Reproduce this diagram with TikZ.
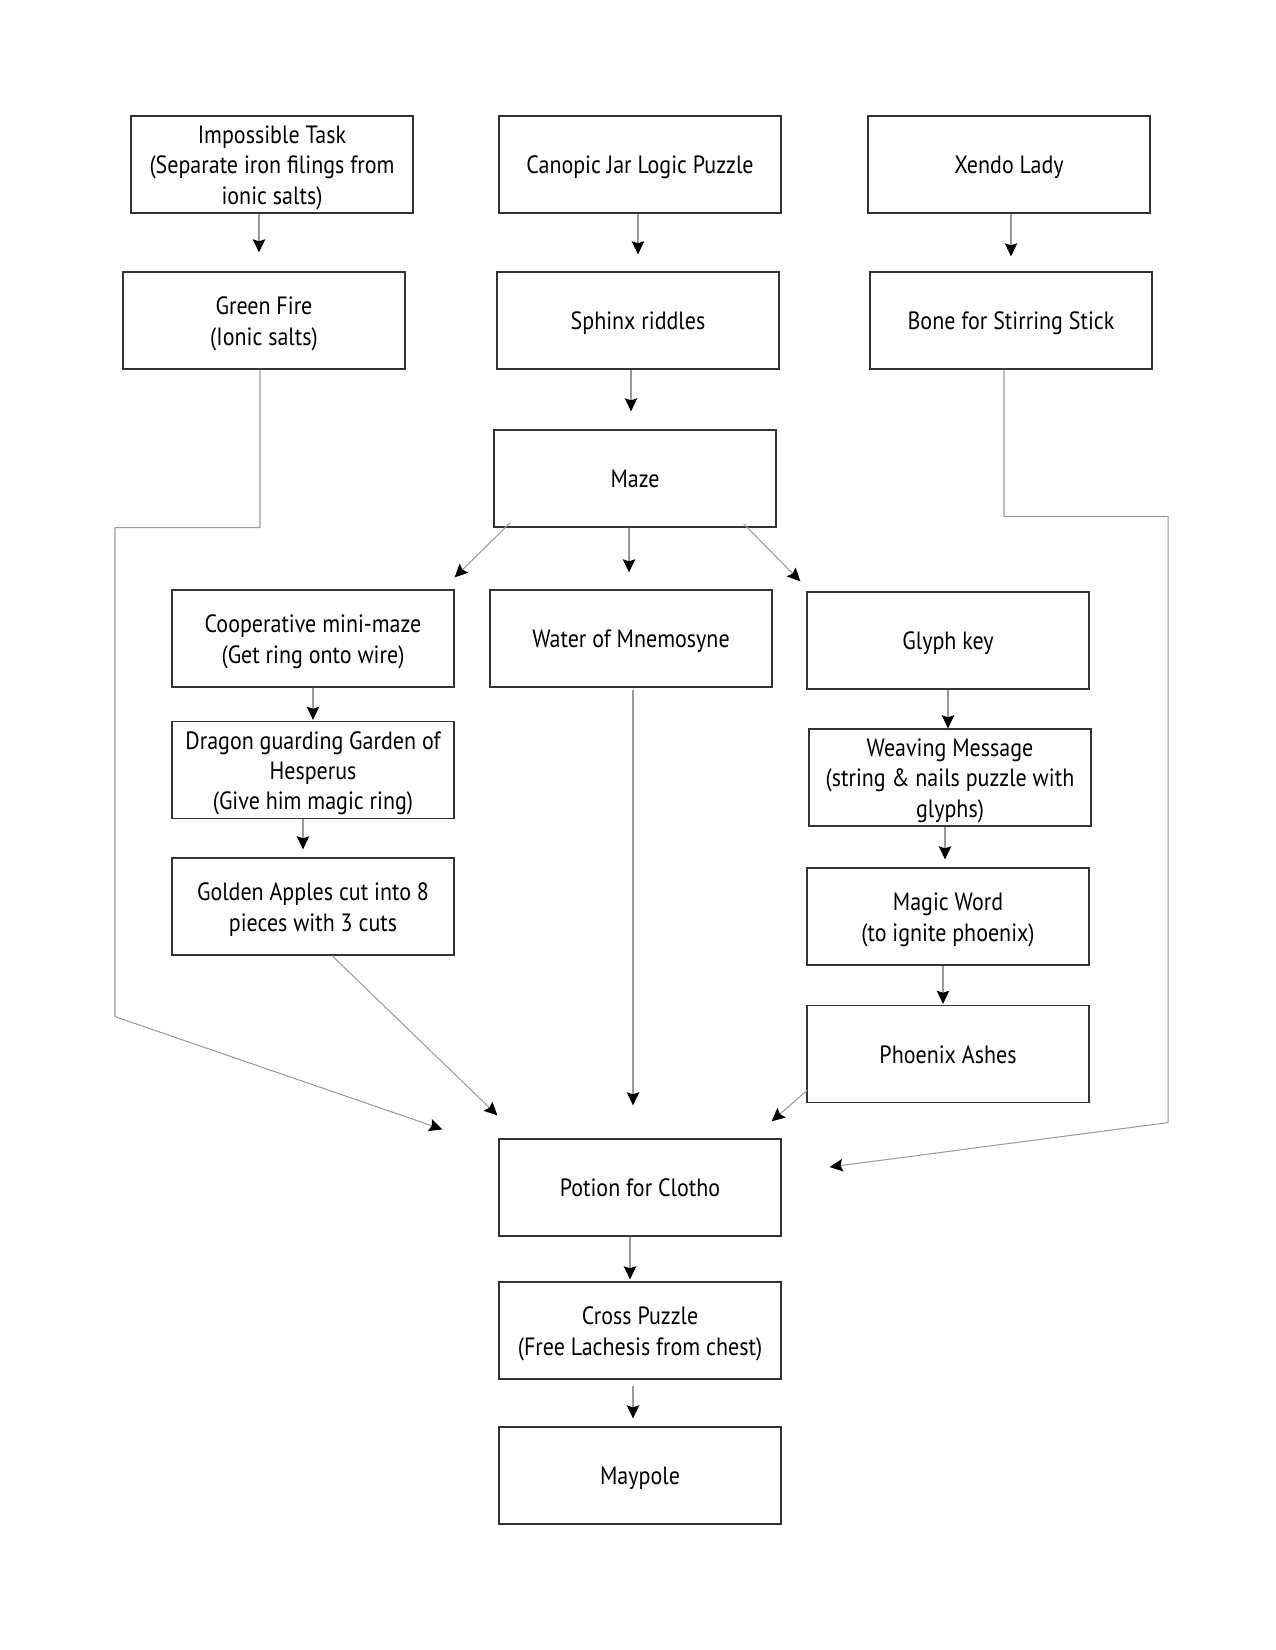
\documentclass[tikz,border=0pt]{standalone}
\usepackage{fontspec}
\setmainfont{PT Sans}[FakeStretch=0.88]
\usetikzlibrary{arrows.meta,calc}
\definecolor{boxline}{HTML}{333333}
\definecolor{connline}{HTML}{9A9A9A}
\newcommand\bt[1]{\raisebox{-1.6pt}[\height][\depth]{\begin{tabular}{@{}c@{}}#1\end{tabular}}}
\tikzset{
  box/.style={draw=boxline,line width=0.6pt,minimum width=135.36pt,minimum height=46.56pt,inner sep=0pt,font=\fontsize{12}{14.6}\selectfont},
  conn/.style={draw=connline,line width=0.5pt,-{Stealth[length=6.3pt,width=6pt,inset=1pt,color=black]}}
}
\begin{document}
\begin{tikzpicture}[x=0.48pt,y=-0.48pt]
\useasboundingbox (0,0) rectangle (1275,1650);
\node[box] (imp) at (272,164.5) {\bt{Impossible Task\\(Separate iron filings from\\ionic salts)}};
\node[box] (can) at (640,164.5) {\bt{Canopic Jar Logic Puzzle}};
\node[box] (xen) at (1009,164.5) {\bt{Xendo Lady}};
\node[box] (gf) at (264,320.5) {\bt{Green Fire\\(Ionic salts)}};
\node[box] (sph) at (638,320.5) {\bt{Sphinx riddles}};
\node[box] (bone) at (1011,320.5) {\bt{Bone for Stirring Stick}};
\node[box] (maze) at (635,478.5) {\bt{Maze}};
\node[box] (coop) at (313,638.5) {\bt{Cooperative mini-maze\\(Get ring onto wire)}};
\node[box] (water) at (631,638.5) {\bt{Water of Mnemosyne}};
\node[box] (glyph) at (948,640.5) {\bt{Glyph key}};
\node[box] (dragon) at (313,770) {\bt{Dragon guarding Garden of\\Hesperus\\(Give him magic ring)}};
\node[box] (weav) at (950,777.5) {\bt{Weaving Message\\(string \& nails puzzle with\\glyphs)}};
\node[box] (gold) at (313,906.5) {\bt{Golden Apples cut into 8\\pieces with 3 cuts}};
\node[box] (magic) at (948,916.5) {\bt{Magic Word\\(to ignite phoenix)}};
\node[box] (phoenix) at (948,1054) {\bt{Phoenix Ashes}};
\node[box] (pot) at (640,1187.5) {\bt{Potion for Clotho}};
\node[box] (cross) at (640,1330.5) {\bt{Cross Puzzle\\(Free Lachesis from chest)}};
\node[box] (may) at (640,1475.5) {\bt{Maypole}};

\draw[conn] ($(imp.south)+(-13,0)$) -- ($(gf.north)+(-5,-19)$);
\draw[conn] ($(can.south)+(-2,0)$) -- ($(sph.north)+(0,-17)$);
\draw[conn] ($(xen.south)+(2,0)$) -- ($(bone.north)+(0,-15)$);
\draw[conn] ($(sph.south)+(-7,0)$) -- ($(maze.north)+(-4,-18)$);
\draw[conn] ($(gf.south)+(-4,0)$) -- ++(0,158) -- ++(-145,0) -- ++(0,489) -- ($(pot.north west)+(-56,-9)$);
\draw[conn] ($(gold.south)+(19,0)$) -- ($(pot.north west)+(-1,-23)$);
\draw[conn] ($(maze.south west)+(17,-5)$) -- ($(coop.north east)+(0,-12)$);
\draw[conn] ($(maze.south)+(-6,0)$) -- ($(water.north)+(-2,-17)$);
\draw[conn] ($(maze.south east)+(-33,-4)$) -- ($(glyph.north west)+(-6,-10)$);
\draw[conn] ($(bone.south)+(-7,0)$) -- ++(0,147) -- ++(164,0) -- ++(0,606) -- ($(pot.east)+(48,-20.5)$);
\draw[conn] ($(water.south)+(2,2)$) -- ($(pot.north)+(-7,-33)$);
\draw[conn] (coop.south) -- ($(dragon.north)+(0,-1)$);
\draw[conn] ($(dragon.south)+(-10,0)$) -- ($(gold.north)+(-10,-8)$);
\draw[conn] (glyph.south) -- ($(weav.north)+(-2,0)$);
\draw[conn] ($(weav.south)+(-5,0)$) -- ($(magic.north)+(-3,-8)$);
\draw[conn] ($(magic.south)+(-5,0)$) -- ($(phoenix.north)+(-5,-1)$);
\draw[conn] ($(phoenix.south west)+(1,-13)$) -- ($(pot.north east)+(-10,-17)$);
\draw[conn] ($(pot.south)+(-10,0)$) -- ($(cross.north)+(-10,-2)$);
\draw[conn] ($(cross.south)+(-7,6)$) -- ($(may.north)+(-7,-8)$);
\end{tikzpicture}
\end{document}
